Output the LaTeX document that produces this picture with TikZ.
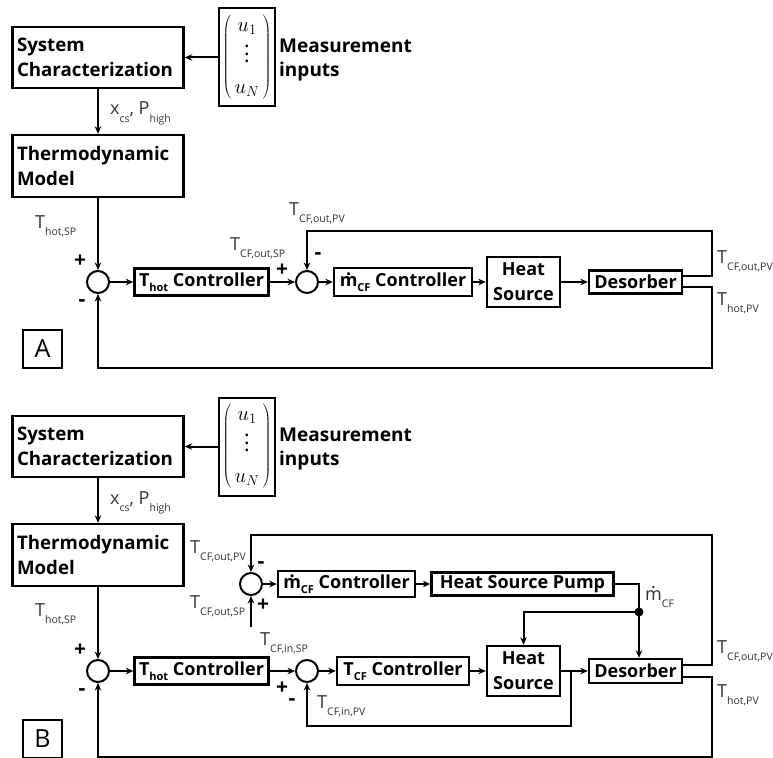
\documentclass[tikz,border=0pt]{standalone}
\usepackage{fontspec}
\setmainfont{Open Sans}
\usetikzlibrary{arrows.meta}

% subscripts for bold block text and for signal labels
\newcommand{\bsub}[1]{\raisebox{-5pt}{\fontsize{11}{11}\selectfont #1}}
\newcommand{\lsub}[1]{\raisebox{-7pt}{\fontsize{10.5}{10.5}\selectfont #1}}
% m with a dot above (mass flow rate)
\newcommand{\mdt}{\leavevmode\setbox0=\hbox{m}\rlap{\hbox to \wd0{\hss\raisebox{0.64em}{.}\hss}}\box0}
% widely spaced vertical dots for the measurement vector
\newcommand{\vdts}{\vbox{\baselineskip7.5pt\lineskiplimit0pt\hbox{\normalfont .}\hbox{\normalfont .}\hbox{\normalfont .}}}

\tikzset{
  blk/.style={draw, line width=2.4pt, font=\bfseries\fontsize{18}{25}\selectfont,
              inner sep=0pt, align=center},
  bigblk/.style={blk, font=\bfseries\fontsize{18.7}{25}\selectfont,
              minimum width=171pt, text width=162pt, align=left},
  sumc/.style={circle, draw, line width=2pt, minimum size=22pt, inner sep=0pt},
  wire/.style={line width=2pt},
  arr/.style={wire, -{Stealth[length=7.5pt,width=6.5pt]}},
  lab/.style={anchor=base west, inner sep=0pt, text=black!80,
              font=\fontsize{18}{18}\selectfont},
  sgn/.style={inner sep=0pt, font=\bfseries\fontsize{21}{21}\selectfont},
  tag/.style={draw, line width=1.6pt, minimum width=39pt, minimum height=38pt,
              inner sep=0pt, font=\fontsize{25}{25}\selectfont},
  meas/.style={anchor=west, align=left, inner sep=0pt,
               font=\bfseries\fontsize{19}{24}\selectfont},
  vec/.style={draw, line width=2pt, minimum width=56pt, minimum height=98pt,
              inner sep=0pt, font=\fontsize{20.74}{24}\selectfont}
}

\newcommand{\uvec}{$\left(\begin{array}{@{\,}c@{\,}} u_1\\[6.5pt] \vdts\\[6.5pt] u_N\end{array}\right)$}

\begin{document}
\begin{tikzpicture}[x=1pt,y=-1pt]
\useasboundingbox (0,0) rectangle (773,757);

%% ---------------- Part A ----------------
\node[bigblk, minimum height=61pt] (scA) at (98,57.5) {System\\Characterization};
\node[vec] (matA) at (247,57.5) {\uvec};
\node[meas] (measA) at (279,60) {Measurement\\inputs};
\node[bigblk, minimum height=62pt] (tmA) at (98,166) {Thermodynamic\\Model};
\node[lab] (xcsA) at (110,115) {x\lsub{cs}, P\lsub{high}};

\node[sumc] (s1A) at (98,282) {};
\node[blk, minimum width=134pt, minimum height=27pt] (thcA) at (201.5,282) {T\bsub{hot} Controller};
\node[sumc] (s2A) at (307,282) {};
\node[blk, minimum width=138pt, minimum height=28pt] (mdcA) at (403,282) {\mdt\bsub{CF} Controller};
\node[blk, minimum width=73pt, minimum height=50pt] (hsA) at (523.5,282) {Heat\\Source};
\node[blk, minimum width=93pt, minimum height=23pt] (desA) at (635.5,282) {Desorber};

\coordinate (fbA1) at (712,231);
\coordinate (fbA2) at (712,368);

\draw[arr] (matA.west) -- (scA.east);
\draw[arr] (scA.south) -- (tmA.north);
\draw[arr] (tmA.south) -- (s1A.north);
\draw[arr] (s1A.east) -- (thcA.west);
\draw[arr] (thcA.east) -- (s2A.west);
\draw[arr] (s2A.east) -- (mdcA.west);
\draw[arr] (mdcA.east) -- (hsA.west);
\draw[arr] (hsA.east) -- (desA.west);
\draw[arr] ([yshift=6pt]desA.east) -| (fbA1) -| (s2A.north);
\draw[arr] ([yshift=-5pt]desA.east) -| (fbA2) -| (s1A.south);

\node[lab] (lA1) at (35,228) {T\lsub{hot,SP}};
\node[lab] (lA2) at (230,250) {T\lsub{CF,out,SP}};
\node[lab] (lA3) at (289,215) {T\lsub{CF,out,PV}};
\node[lab] (lA4) at (717,263) {T\lsub{CF,out,PV}};
\node[lab] (lA5) at (717,305) {T\lsub{hot,PV}};
\node[sgn] (pA1) at (80,261) {+};
\node[sgn] (mA1) at (82,303) {-};
\node[sgn] (pA2) at (282,270) {+};
\node[sgn] (mA2) at (318,256) {-};

\node[tag] (tagA) at (42.5,349) {A};

%% ---------------- Part B ----------------
\node[bigblk, minimum height=61pt] (scB) at (98,446.5) {System\\Characterization};
\node[vec] (matB) at (247,446.5) {\uvec};
\node[meas] (measB) at (279,449) {Measurement\\inputs};
\node[bigblk, minimum height=62pt] (tmB) at (98,555) {Thermodynamic\\Model};
\node[lab] (xcsB) at (110,504) {x\lsub{cs}, P\lsub{high}};

% inner loop (mass flow rate)
\node[sumc] (s3B) at (251,584) {};
\node[blk, minimum width=137pt, minimum height=26pt] (mdcB) at (346.5,584) {\mdt\bsub{CF} Controller};
\node[blk, minimum width=182pt, minimum height=23pt] (hspB) at (522.5,584) {Heat Source Pump};

% main loop
\node[sumc] (s4B) at (98,671) {};
\node[blk, minimum width=134pt, minimum height=27pt] (thcB) at (201.5,671) {T\bsub{hot} Controller};
\node[sumc] (s5B) at (307,671) {};
\node[blk, minimum width=132pt, minimum height=28pt] (tcfB) at (403,671) {T\bsub{CF} Controller};
\node[blk, minimum width=73pt, minimum height=50pt] (hsB) at (523.5,671) {Heat\\Source};
\node[blk, minimum width=93pt, minimum height=24pt] (desB) at (635.5,671) {Desorber};

\coordinate (dotB) at (639,612);
\coordinate (brB) at (571,671);
\coordinate (fbB1) at (712,535);
\coordinate (fbB2) at (712,757);
\coordinate (fbB3) at (571,726);
\coordinate (inB) at (251,627);

\draw[arr] (matB.west) -- (scB.east);
\draw[arr] (scB.south) -- (tmB.north);
\draw[arr] (tmB.south) -- (s4B.north);
\draw[arr] (s4B.east) -- (thcB.west);
\draw[arr] (thcB.east) -- (s5B.west);
\draw[arr] (s5B.east) -- (tcfB.west);
\draw[arr] (tcfB.east) -- (hsB.west);
\draw[arr] (hsB.east) -- (desB.west);
\draw[arr] (s3B.east) -- (mdcB.west);
\draw[arr] (mdcB.east) -- (hspB.west);
\draw[wire] (hspB.east) -| (dotB);
\fill (dotB) circle (4.5pt);
\draw[arr] (dotB) -| (hsB.north);
\draw[arr] (dotB) -- (dotB |- desB.north);
\draw[arr] (brB) -- (fbB3) -| (s5B.south);
\draw[arr] (inB) -- (s3B.south);
\draw[arr] ([yshift=6pt]desB.east) -| (fbB1) -| (s3B.north);
\draw[arr] ([yshift=-6pt]desB.east) -| (fbB2) -| (s4B.south);

\node[lab] (lB1) at (35,616) {T\lsub{hot,SP}};
\node[lab] (lB2) at (190,553) {T\lsub{CF,out,PV}};
\node[lab] (lB3) at (190,608) {T\lsub{CF,out,SP}};
\node[lab] (lB4) at (260,645) {T\lsub{CF,in,SP}};
\node[lab] (lB5) at (317,708) {T\lsub{CF,in,PV}};
\node[lab] (lB6) at (645,600) {\mdt\lsub{CF}};
\node[lab] (lB7) at (717,653) {T\lsub{CF,out,PV}};
\node[lab] (lB8) at (717,697) {T\lsub{hot,PV}};
\node[sgn] (pB1) at (80,650) {+};
\node[sgn] (mB1) at (82,692) {-};
\node[sgn] (mB2) at (261,565) {-};
\node[sgn] (pB2) at (263,605) {+};
\node[sgn] (pB3) at (282,688) {+};
\node[sgn] (mB3) at (292,702) {-};

\node[tag] (tagB) at (42.5,739) {B};
\end{tikzpicture}
\end{document}
